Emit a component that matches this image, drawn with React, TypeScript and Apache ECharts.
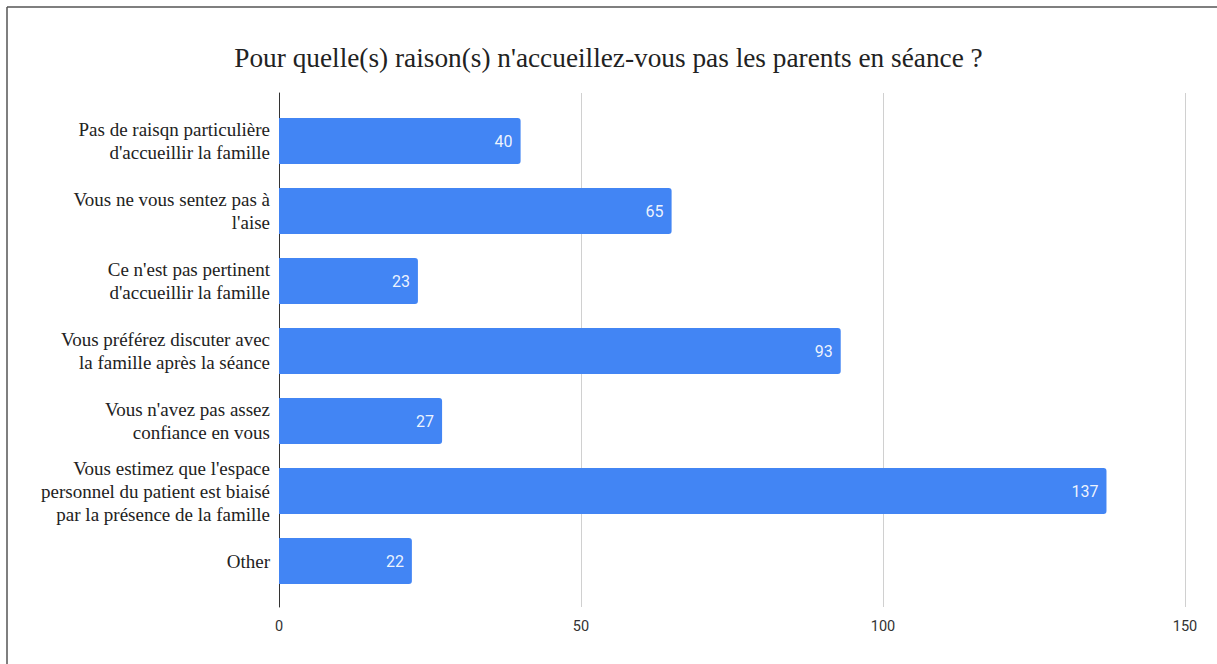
import React, { useEffect, useRef } from "react";
import * as echarts from "echarts";

const titleText = "Pour quelle(s) raison(s) n'accueillez-vous pas les parents en séance ?";

const categories = [
  "Pas de raisqn particulière\nd'accueillir la famille",
  "Vous ne vous sentez pas à\nl'aise",
  "Ce n'est pas pertinent\nd'accueillir la famille",
  "Vous préférez discuter avec\nla famille après la séance",
  "Vous n'avez pas assez\nconfiance en vous",
  "Vous estimez que l'espace\npersonnel du patient est biaisé\npar la présence de la famille",
  "Other",
];

const values = [40, 65, 23, 93, 27, 137, 22];

const axisMin = 0;
const axisMax = 150;
const axisInterval = 50;

export default function App() {
  const ref = useRef<HTMLDivElement>(null);

  useEffect(() => {
    if (!ref.current) return;
    const chart = echarts.init(ref.current, null, { renderer: "svg" });
    const serif = "'Liberation Serif', 'DejaVu Serif', serif";
    chart.setOption({
      animation: false,
      backgroundColor: "#ffffff",
      title: {
        text: titleText,
        left: "center",
        top: 39,
        textStyle: {
          fontFamily: serif,
          fontSize: 27.3,
          fontWeight: "normal",
          color: "#222222",
        },
      },
      graphic: [
        {
          type: "line",
          shape: { x1: 7, y1: 7, x2: 1217, y2: 7 },
          style: { stroke: "#555555", lineWidth: 1.5 },
        },
        {
          type: "line",
          shape: { x1: 7, y1: 7, x2: 7, y2: 664 },
          style: { stroke: "#555555", lineWidth: 1.5 },
        },
      ],
      grid: [
        { left: 279, width: 906, top: 93, height: 514 },
        { left: 279, width: 906, top: 106, height: 490 },
      ],
      xAxis: [
        {
          gridIndex: 0,
          type: "value",
          min: axisMin,
          max: axisMax,
          interval: axisInterval,
          axisLine: { show: false },
          axisTick: { show: false },
          splitLine: { show: true, lineStyle: { color: "#d0d0d0", width: 1 } },
          axisLabel: {
            fontFamily: "Roboto",
            fontSize: 14.5,
            color: "#333333",
            margin: 12,
          },
        },
        {
          gridIndex: 1,
          type: "value",
          min: axisMin,
          max: axisMax,
          show: false,
        },
      ],
      yAxis: [
        {
          gridIndex: 0,
          type: "value",
          min: 0,
          max: 1,
          axisLine: { show: true, lineStyle: { color: "#333333", width: 1 } },
          axisTick: { show: false },
          axisLabel: { show: false },
          splitLine: { show: false },
        },
        {
          gridIndex: 1,
          type: "category",
          inverse: true,
          data: categories,
          axisLine: { show: false },
          axisTick: { show: false },
          axisLabel: {
            fontFamily: serif,
            fontSize: 19,
            color: "#222222",
            lineHeight: 23,
            margin: 9,
            align: "right",
          },
        },
      ],
      series: [
        {
          type: "bar",
          xAxisIndex: 1,
          yAxisIndex: 1,
          data: values,
          barWidth: 46,
          itemStyle: { color: "#4285F4", borderRadius: [0, 3, 3, 0] },
          label: {
            show: true,
            position: "insideRight",
            distance: 8,
            color: "rgba(255,255,255,0.92)",
            fontFamily: "Roboto",
            fontSize: 16,
          },
        },
      ],
    });
    return () => chart.dispose();
  }, []);

  return (
    <div
      ref={ref}
      style={{ position: "absolute", left: 0, top: 0, width: 1217, height: 664 }}
    />
  );
}
